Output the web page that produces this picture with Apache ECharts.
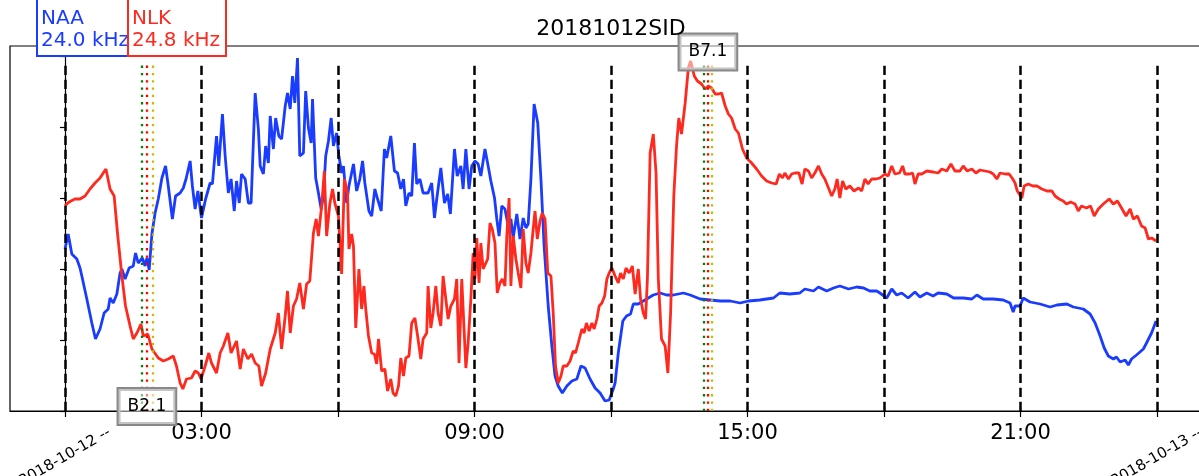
<!DOCTYPE html>
<html><head><meta charset="utf-8">
<script src="https://cdn.jsdelivr.net/npm/echarts@6/dist/echarts.min.js"></script>
<style>html,body{margin:0;padding:0;background:#fff}#c{width:1199px;height:476px}</style>
</head><body><div id="c"></div>
<script>
// NAA 24.0 kHz signal: [hour of 2018-10-12 UT, amplitude (arbitrary units)]
const naa = [[0.00,162],[0.07,177],[0.15,157],[0.26,152],[0.33,143],[0.37,135],[0.48,112],[0.59,88],[0.67,72],[0.77,82],[0.86,98],[0.95,102],[0.99,113],[1.06,108],[1.14,117],[1.21,138],[1.25,142],[1.32,132],[1.41,143],[1.50,145],[1.55,158],[1.61,148],[1.70,153],[1.76,145],[1.80,153],[1.85,141],[1.91,177],[1.98,198],[2.05,212],[2.13,233],[2.21,245],[2.27,225],[2.36,192],[2.43,215],[2.53,218],[2.60,223],[2.66,232],[2.70,230],[2.75,250],[2.80,225],[2.86,202],[2.92,220],[3.00,193],[3.09,212],[3.19,228],[3.24,227],[3.33,275],[3.38,245],[3.46,297],[3.52,255],[3.59,218],[3.65,232],[3.72,200],[3.77,230],[3.83,208],[3.88,237],[3.96,232],[4.03,208],[4.09,208],[4.18,318],[4.25,282],[4.29,245],[4.36,237],[4.41,265],[4.47,248],[4.51,295],[4.58,262],[4.63,293],[4.70,275],[4.76,272],[4.84,305],[4.89,318],[4.95,302],[5.00,335],[5.05,308],[5.11,353],[5.16,255],[5.24,258],[5.29,320],[5.35,283],[5.41,268],[5.44,312],[5.51,233],[5.57,218],[5.63,202],[5.68,215],[5.73,255],[5.79,270],[5.85,293],[5.90,265],[5.97,278],[6.02,255],[6.08,238],[6.12,245],[6.19,208],[6.24,225],[6.34,247],[6.41,220],[6.48,232],[6.54,250],[6.59,228],[6.68,200],[6.74,195],[6.81,222],[6.87,212],[6.95,200],[7.02,262],[7.07,253],[7.16,275],[7.24,240],[7.31,238],[7.38,222],[7.44,232],[7.49,205],[7.56,218],[7.62,215],[7.68,268],[7.73,227],[7.80,232],[7.87,218],[7.98,218],[8.06,228],[8.12,193],[8.17,212],[8.26,243],[8.34,208],[8.41,217],[8.47,197],[8.56,262],[8.62,235],[8.70,245],[8.75,222],[8.81,262],[8.88,222],[8.94,245],[9.01,250],[9.08,247],[9.14,235],[9.23,262],[9.30,245],[9.36,230],[9.44,213],[9.49,192],[9.54,175],[9.60,205],[9.67,202],[9.74,185],[9.80,192],[9.85,173],[9.93,197],[10.00,172],[10.07,193],[10.13,183],[10.18,187],[10.24,232],[10.31,307],[10.39,288],[10.46,232],[10.53,165],[10.62,105],[10.70,65],[10.77,35],[10.84,25],[10.93,18],[11.03,25],[11.14,30],[11.25,32],[11.34,45],[11.43,43],[11.54,32],[11.65,23],[11.76,18],[11.87,10],[11.96,11],[12.05,22],[12.09,28],[12.16,58],[12.26,90],[12.34,95],[12.43,97],[12.49,107],[12.60,107],[12.71,110],[12.82,113],[12.93,116],[13.08,118],[13.22,116],[13.37,116],[13.59,118],[13.74,116],[13.96,112],[14.18,111],[14.40,110],[14.62,110],[14.84,108],[15.02,110],[15.27,111],[15.57,113],[15.71,118],[15.93,117],[16.15,118],[16.26,122],[16.45,120],[16.56,124],[16.74,120],[16.89,123],[17.03,125],[17.22,122],[17.40,124],[17.55,123],[17.69,120],[17.84,120],[17.91,118],[18.06,113],[18.17,122],[18.28,116],[18.39,118],[18.53,113],[18.68,119],[18.79,114],[18.94,118],[19.08,115],[19.19,118],[19.38,117],[19.53,113],[19.74,113],[19.93,112],[20.04,116],[20.18,112],[20.40,112],[20.62,111],[20.77,108],[20.84,99],[20.88,105],[20.99,105],[21.06,113],[21.21,109],[21.43,107],[21.65,104],[21.80,106],[22.02,107],[22.16,104],[22.38,102],[22.53,97],[22.64,88],[22.75,75],[22.84,63],[22.93,55],[23.04,52],[23.11,54],[23.19,49],[23.30,51],[23.37,46],[23.44,52],[23.55,56],[23.70,62],[23.77,68],[23.88,78],[23.98,90]];

// NLK 24.8 kHz signal
const nlk = [[0.00,205],[0.06,208],[0.13,210],[0.22,212],[0.33,212],[0.44,215],[0.55,222],[0.66,228],[0.77,233],[0.84,238],[0.90,242],[0.99,222],[1.08,215],[1.16,175],[1.25,135],[1.33,105],[1.43,85],[1.50,72],[1.58,78],[1.67,87],[1.72,75],[1.82,77],[1.91,62],[2.05,53],[2.16,50],[2.27,52],[2.38,55],[2.45,45],[2.53,28],[2.59,22],[2.67,32],[2.78,33],[2.86,40],[2.93,38],[2.99,32],[3.08,45],[3.16,58],[3.22,48],[3.33,38],[3.41,58],[3.48,65],[3.58,78],[3.65,58],[3.77,70],[3.85,42],[3.92,62],[4.02,52],[4.10,57],[4.18,48],[4.26,45],[4.32,25],[4.41,38],[4.51,62],[4.62,78],[4.69,98],[4.76,62],[4.84,95],[4.89,120],[4.95,78],[5.02,105],[5.09,112],[5.16,128],[5.24,102],[5.31,127],[5.38,130],[5.46,178],[5.52,192],[5.57,175],[5.64,205],[5.70,240],[5.75,175],[5.82,207],[5.88,222],[5.93,208],[6.01,195],[6.08,137],[6.14,232],[6.21,218],[6.24,162],[6.30,177],[6.34,165],[6.39,83],[6.46,142],[6.52,102],[6.57,125],[6.61,102],[6.67,75],[6.74,58],[6.80,57],[6.85,47],[6.89,72],[6.96,40],[7.03,42],[7.09,20],[7.16,32],[7.21,18],[7.27,15],[7.33,25],[7.38,53],[7.44,35],[7.49,53],[7.56,55],[7.62,88],[7.69,93],[7.75,75],[7.82,52],[7.87,72],[7.95,78],[7.98,125],[8.04,83],[8.09,98],[8.15,125],[8.20,98],[8.26,85],[8.31,135],[8.37,112],[8.42,92],[8.48,105],[8.56,112],[8.61,132],[8.66,48],[8.72,132],[8.75,132],[8.81,43],[8.86,68],[8.92,112],[8.97,158],[9.01,132],[9.05,173],[9.10,128],[9.14,168],[9.19,142],[9.25,148],[9.29,152],[9.34,188],[9.39,182],[9.45,168],[9.50,118],[9.56,128],[9.61,132],[9.67,125],[9.71,175],[9.76,213],[9.80,125],[9.85,175],[9.91,152],[9.96,138],[10.02,123],[10.07,182],[10.13,148],[10.18,138],[10.24,158],[10.29,182],[10.33,200],[10.38,172],[10.44,190],[10.49,198],[10.55,192],[10.61,138],[10.68,135],[10.73,98],[10.78,45],[10.84,28],[10.90,35],[10.95,45],[11.03,45],[11.10,50],[11.17,60],[11.22,58],[11.28,68],[11.36,82],[11.41,78],[11.46,88],[11.52,80],[11.58,88],[11.63,82],[11.69,92],[11.74,105],[11.80,108],[11.86,115],[11.91,132],[11.96,138],[12.02,143],[12.09,135],[12.16,128],[12.21,138],[12.27,132],[12.33,143],[12.40,138],[12.47,145],[12.53,117],[12.60,142],[12.65,112],[12.71,98],[12.76,92],[12.80,132],[12.86,258],[12.93,277],[12.99,238],[13.04,132],[13.11,72],[13.19,65],[13.25,38],[13.31,98],[13.38,215],[13.44,265],[13.49,293],[13.55,277],[13.63,308],[13.70,343],[13.75,350],[13.83,335],[13.90,330],[13.99,327],[14.07,322],[14.14,325],[14.21,323],[14.29,317],[14.36,317],[14.43,318],[14.51,305],[14.58,297],[14.65,293],[14.73,282],[14.80,278],[14.89,262],[14.98,253],[15.09,248],[15.20,242],[15.31,235],[15.42,230],[15.53,228],[15.63,227],[15.70,237],[15.77,233],[15.82,238],[15.90,232],[15.97,237],[16.04,238],[16.13,238],[16.20,227],[16.26,242],[16.34,240],[16.41,233],[16.48,238],[16.56,245],[16.63,237],[16.70,232],[16.78,223],[16.85,215],[16.92,222],[16.97,232],[17.03,213],[17.09,230],[17.16,222],[17.25,225],[17.34,220],[17.44,223],[17.51,220],[17.58,232],[17.65,227],[17.73,232],[17.82,232],[17.91,233],[18.02,237],[18.09,235],[18.17,245],[18.24,237],[18.34,238],[18.41,245],[18.46,237],[18.56,237],[18.63,238],[18.68,227],[18.75,237],[18.83,237],[18.94,240],[19.08,239],[19.19,238],[19.27,242],[19.38,240],[19.47,247],[19.56,240],[19.67,240],[19.74,245],[19.83,240],[19.93,242],[20.02,238],[20.11,241],[20.22,240],[20.33,239],[20.40,237],[20.48,232],[20.55,238],[20.66,237],[20.75,237],[20.83,232],[20.88,228],[20.93,220],[20.97,220],[21.03,213],[21.08,225],[21.17,227],[21.27,225],[21.36,225],[21.47,222],[21.58,220],[21.69,220],[21.76,215],[21.85,212],[21.94,210],[22.01,207],[22.10,209],[22.20,207],[22.27,200],[22.34,205],[22.45,203],[22.54,205],[22.62,195],[22.71,202],[22.82,207],[22.95,212],[23.04,207],[23.13,210],[23.22,203],[23.32,195],[23.41,202],[23.48,192],[23.57,195],[23.66,185],[23.74,183],[23.81,172],[23.88,173],[23.98,170]];

const dayLines = [0, 3, 6, 9, 12, 15, 18, 21, 24];
const timeLabels = {3: '03:00', 9: '09:00', 15: '15:00', 21: '21:00'};
const dateLabels = {0: '2018-10-12 --', 24: '2018-10-13 --'};
const flares = [
  {name: 'B2.1', start: 1.69, peak: 1.80, end: 1.92, labelY: 4.5},
  {name: 'B7.1', start: 14.04, peak: 14.13, end: 14.21, labelY: 359}
];
const yTicks = [0, 71, 142, 213, 284, 355];
const lineTop = 349;

const FONT = 'DejaVu Sans';
const BLUE = '#1a3cff', RED = '#ff2a1f';
const XMIN = -1.2088, XMAX = 25.2;

const chart = echarts.init(document.getElementById('c'));
const markLines = [];
dayLines.forEach(h => markLines.push([
  {coord: [h, 0], lineStyle: {color: '#000', type: [9.3, 4.7], width: 2.5}},
  {coord: [h, lineTop]}
]));
flares.forEach(f => {
  [['start', 'green'], ['peak', 'red'], ['end', '#bfbf00']].forEach(([k, c]) => {
    markLines.push([
      {coord: [f[k], 0], lineStyle: {color: c, type: [2.3, 5.0], width: 2.3}},
      {coord: [f[k], lineTop]}
    ]);
  });
});

chart.setOption({
  animation: false,
  backgroundColor: '#fff',
  title: {
    text: '20181012SID', left: 611, top: 18, textAlign: 'center', padding: 0,
    textStyle: {fontFamily: FONT, fontSize: 22, fontWeight: 'normal', color: '#000'}
  },
  grid: {left: 10, right: -12.6, top: 46, bottom: 65, containLabel: false, outerBoundsMode: 'none',
    show: true, borderColor: '#000', borderWidth: 1.2, backgroundColor: 'transparent'},
  xAxis: [{
    type: 'value', min: XMIN, max: XMAX, position: 'bottom',
    axisLine: {show: true, lineStyle: {color: '#000', width: 1.2}},
    axisTick: {show: true, customValues: dayLines, length: 6, lineStyle: {color: '#000', width: 1.2}},
    axisLabel: {show: true, customValues: [3, 9, 15, 21], formatter: v => timeLabels[v] || '', fontFamily: FONT, fontSize: 21, color: '#000', margin: 12},
    splitLine: {show: false}
  }, {
    type: 'value', min: XMIN, max: XMAX, position: 'bottom',
    axisLine: {show: false}, axisTick: {show: false}, splitLine: {show: false},
    axisLabel: {show: true, customValues: [0, 24], formatter: v => dateLabels[v] || '', rotate: 30, align: 'center', verticalAlign: 'middle', margin: 46, fontFamily: FONT, fontSize: 15, color: '#000'}
  }],
  yAxis: {
    type: 'value', min: 0, max: 365, interval: 71,
    axisLine: {show: true, lineStyle: {color: '#000', width: 1.2}},
    axisTick: {show: true, customValues: yTicks, length: 5, lineStyle: {color: '#000', width: 1.2}},
    axisLabel: {show: false},
    splitLine: {show: false}
  },
  series: [{
    name: 'NAA', type: 'line', data: naa, showSymbol: false, z: 3,
    lineStyle: {color: BLUE, width: 2.8}, itemStyle: {color: BLUE}
  }, {
    name: 'NLK', type: 'line', data: nlk, showSymbol: false, z: 4,
    lineStyle: {color: RED, width: 2.8}, itemStyle: {color: RED},
    markLine: {silent: true, symbol: ['none', 'none'], label: {show: false}, data: markLines}
  }, {
    name: 'flares', type: 'scatter', data: [], z: 10,
    markPoint: {
      symbol: 'rect', symbolSize: 1, itemStyle: {color: 'rgba(0,0,0,0)'},
      data: flares.map(f => ({name: f.name, coord: [f.peak, f.labelY]})),
      label: {show: true, position: 'inside', formatter: p => p.name, color: '#000', fontFamily: FONT, fontSize: 17, lineHeight: 20,
        backgroundColor: 'rgba(255,255,255,0.5)', borderColor: '#888', borderWidth: 2, padding: [7, 9, 8, 9]}
    }
  }],
  graphic: [
    {type: 'rect', z: 100, shape: {x: 37, y: -10, width: 91, height: 66}, style: {fill: '#fff', stroke: BLUE, lineWidth: 2}},
    {type: 'text', z: 101, x: 41, y: 8, style: {text: 'NAA\n24.0 kHz', fill: BLUE, fontFamily: FONT, fontSize: 20, lineHeight: 21.6}},
    {type: 'rect', z: 102, shape: {x: 128, y: -10, width: 98, height: 66}, style: {fill: '#fff', stroke: RED, lineWidth: 2}},
    {type: 'text', z: 103, x: 132, y: 8, style: {text: 'NLK\n24.8 kHz', fill: RED, fontFamily: FONT, fontSize: 20, lineHeight: 21.6}}
  ]
});
</script></body></html>
